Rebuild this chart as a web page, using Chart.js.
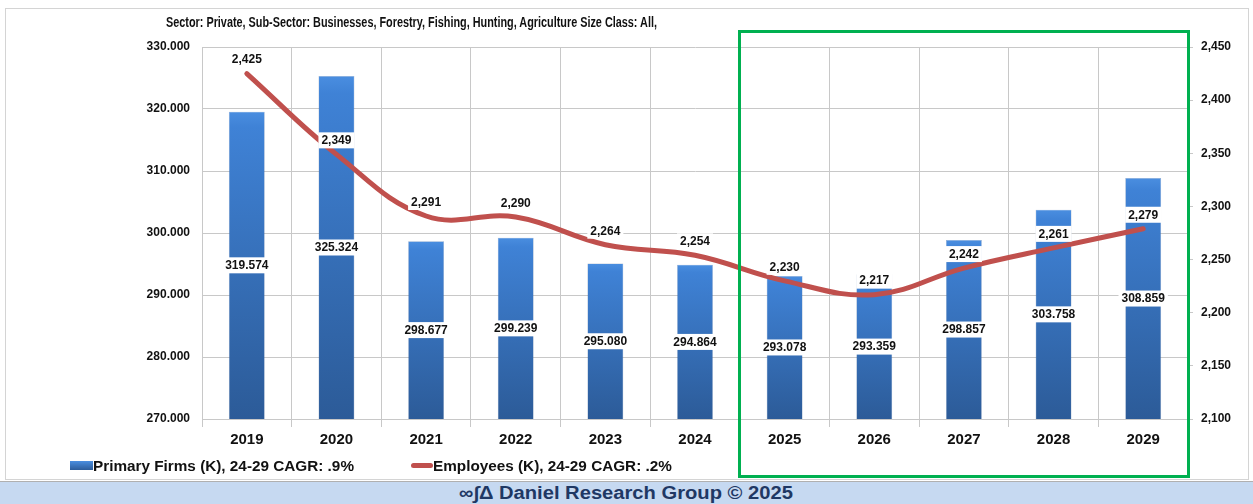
<!DOCTYPE html>
<html>
<head>
<meta charset="utf-8">
<script src="https://cdn.jsdelivr.net/npm/chart.js@4.4.1/dist/chart.umd.min.js"></script>
<style>
  html, body { margin: 0; padding: 0; background: #fff; }
  #wrap { position: relative; width: 1253px; height: 504px; overflow: hidden; font-family: "Liberation Sans", Arial, sans-serif; }
  #frame { position: absolute; left: 5px; top: 8px; width: 1244px; height: 472px; border: 1px solid #d4d4d4; box-sizing: border-box; }
  #title { position: absolute; left: 166px; top: 14px; font: bold 14px "Liberation Sans", sans-serif; color: #111; white-space: nowrap; transform: scaleX(0.775); transform-origin: 0 0; }
  #green { position: absolute; left: 738px; top: 30px; width: 452px; height: 448px; border: 3px solid #00b050; box-sizing: border-box; }
  #footer { position: absolute; left: 0; top: 481px; width: 1253px; height: 23px; background: #c6d9f1; border-top: 1px solid #b0b0b0; box-sizing: border-box; }
  #footer span { position: absolute; left: 0; width: 1253px; top: 0; text-align: center; font: bold 18px "Liberation Sans", sans-serif; color: #1f3864; line-height: 22px; transform: scaleX(1.12); transform-origin: 631px 0; }
  .leg { position: absolute; top: 457px; font: bold 15.3px "Liberation Sans", sans-serif; color: #111; white-space: nowrap; }
  .sw-bar { display: inline-block; width: 23px; height: 9px; background: linear-gradient(#4a8ee0, #2c5c9a); vertical-align: 1px; }
  .sw-line { display: inline-block; width: 22px; height: 5px; border-radius: 3px; background: #c0504d; vertical-align: 3px; }
  canvas { position: absolute; left: 0; top: 0; }
</style>
</head>
<body>
<div id="wrap">
  <div id="frame"></div>
  <canvas id="chart" width="1253" height="504"></canvas>
  <div id="title">Sector: Private, Sub-Sector: Businesses, Forestry, Fishing, Hunting, Agriculture Size Class: All,</div>
  <div id="green"></div>
  <div class="leg" style="left:70px"><span class="sw-bar"></span>Primary Firms (K), 24-29 CAGR: .9%</div>
  <div class="leg" style="left:411px"><span class="sw-line"></span>Employees (K), 24-29 CAGR: .2%</div>
  <div id="footer"><span>∞∫Δ Daniel Research Group © 2025</span></div>
</div>
<script>
// dados
const years = ['2019', '2020', '2021', '2022', '2023', '2024', '2025', '2026', '2027', '2028', '2029'];
const primaryFirms = [319.574, 325.324, 298.677, 299.239, 295.080, 294.864, 293.078, 293.359, 298.857, 303.758, 308.859];
const employees = [2425, 2349, 2291, 2290, 2264, 2254, 2230, 2217, 2242, 2261, 2279];
const firmsTicks = [270, 280, 290, 300, 310, 320, 330];
const employeeTicks = [2100, 2150, 2200, 2250, 2300, 2350, 2400, 2450];

const fmtFirms = v => v.toFixed(3);
const fmtEmp = v => v.toLocaleString('en-US');

function barGradient(context) {
    const chart = context.chart;
    const yScale = chart.scales.y;
    if (!chart.chartArea || !yScale || context.raw == null) return '#3a74c2';
    const top = yScale.getPixelForValue(context.raw);
    const g = chart.ctx.createLinearGradient(0, top, 0, chart.chartArea.bottom);
    g.addColorStop(0, '#4a8ee0');
    g.addColorStop(0.05, '#3f82d6');
    g.addColorStop(1, '#2c5b98');
    return g;
}

function drawLabel(c, text, x, y) {
    c.font = 'bold 12px "Liberation Sans", Arial, sans-serif';
    const w = c.measureText(text).width + 6;
    c.fillStyle = '#ffffff';
    c.fillRect(x - w / 2, y - 8, w, 16);
    c.fillStyle = '#111';
    c.textAlign = 'center';
    c.textBaseline = 'middle';
    c.fillText(text, x, y + 0.5);
}

// rótulos de dados
const valueLabels = {
    id: 'valueLabels',
    afterDatasetsDraw(chart) {
        const c = chart.ctx;
        const yScale = chart.scales.y;
        c.save();
        chart.getDatasetMeta(0).data.forEach((el, i) => {
            const top = yScale.getPixelForValue(primaryFirms[i]);
            const base = yScale.getPixelForValue(yScale.min);
            drawLabel(c, fmtFirms(primaryFirms[i]), el.x, (top + base) / 2);
        });
        chart.getDatasetMeta(1).data.forEach((el, i) => {
            drawLabel(c, fmtEmp(employees[i]), el.x, el.y - 14);
        });
        c.restore();
    }
};

new Chart(document.getElementById('chart'), {
    data: {
        labels: years,
        datasets: [
            {
                type: 'bar',
                label: 'Primary Firms (K), 24-29 CAGR: .9%',
                data: primaryFirms,
                yAxisID: 'y',
                backgroundColor: barGradient,
                borderColor: 'rgba(40,80,140,0.5)',
                borderWidth: 0.5,
                barPercentage: 0.8,
                categoryPercentage: 0.5,
                order: 2
            },
            {
                type: 'line',
                label: 'Employees (K), 24-29 CAGR: .2%',
                data: employees,
                yAxisID: 'y1',
                borderColor: '#c0504d',
                borderWidth: 5,
                borderCapStyle: 'round',
                tension: 0.4,
                pointRadius: 0,
                fill: false,
                order: 1
            }
        ]
    },
    options: {
        responsive: false,
        animation: false,
        layout: { padding: { top: 47, left: 0, right: 0, bottom: 0 } },
        plugins: { legend: { display: false }, tooltip: { enabled: false } },
        scales: {
            x: {
                grid: { offset: true, color: '#c8c8c8', tickLength: 8 },
                border: { color: '#c8c8c8' },
                ticks: { color: '#111', font: { family: 'Liberation Sans', weight: 'bold', size: 15 }, padding: 4 },
                afterFit: s => { s.height = 85; }
            },
            y: {
                position: 'left',
                min: 270, max: 330,
                afterBuildTicks: s => { s.ticks = firmsTicks.map(v => ({ value: v })); },
                grid: { color: '#c8c8c8', drawTicks: false },
                border: { color: '#c8c8c8' },
                ticks: { color: '#111', font: { family: 'Liberation Sans', weight: 'bold', size: 12 }, padding: 12, callback: v => fmtFirms(v) },
                afterFit: s => { s.width = 202; }
            },
            y1: {
                position: 'right',
                min: 2100, max: 2450,
                afterBuildTicks: s => { s.ticks = employeeTicks.map(v => ({ value: v })); },
                grid: { drawOnChartArea: false, color: '#c8c8c8', tickLength: 5 },
                border: { color: '#c8c8c8' },
                ticks: { color: '#111', font: { family: 'Liberation Sans', weight: 'bold', size: 12 }, padding: 8, callback: v => fmtEmp(v) },
                afterFit: s => { s.width = 65; }
            }
        }
    },
    plugins: [valueLabels]
});
</script>
</body>
</html>
